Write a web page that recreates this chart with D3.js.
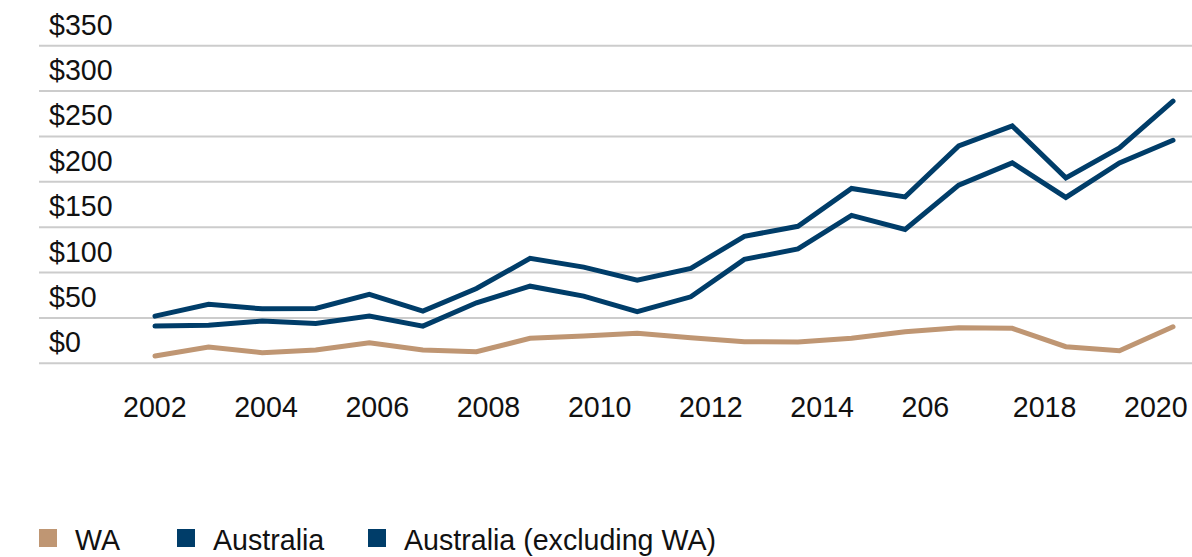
<!DOCTYPE html>
<html>
<head>
<meta charset="utf-8">
<script src="https://cdn.jsdelivr.net/npm/d3@7/dist/d3.min.js"></script>
<style>
  html, body { margin: 0; padding: 0; background: #ffffff; }
  svg { display: block; }
  text { font-family: "Liberation Sans", Arial, Helvetica, sans-serif; fill: #111111; }
</style>
</head>
<body>
<svg id="chart" width="1192" height="557"></svg>
<script>
// ---- Data ----
const years = ["2002","2003","2004","2005","2006","2007","2008","2009","2010","2011",
               "2012","2013","2014","2015","2016","2017","2018","2019","2020","2021"];
const australia = [52, 65, 60, 60.5, 76, 57.6, 82.5, 115.6, 106, 91.7,
                   104.6, 140, 151, 192.7, 183.4, 239.6, 261.6, 204.3, 237.4, 288.8];
const australiaExWA = [41, 42, 46.5, 44, 52, 41, 66.7, 85, 74, 56.8,
                       73.3, 114.5, 126, 163, 147.5, 196.3, 220.9, 182.8, 220.9, 245.8];
const wa = [8, 18, 11.7, 14.6, 22.7, 14.6, 12.8, 27.5, 30, 33,
            28.2, 23.8, 23.5, 27.5, 34.8, 39.2, 38.5, 18.3, 13.9, 40.3];
const xTickLabels = ["2002","2004","2006","2008","2010","2012","2014","206","2018","2020"];
const yTicks = [0, 50, 100, 150, 200, 250, 300, 350];
const seriesNames = ["WA", "Australia", "Australia (excluding WA)"];
const seriesColors = ["#BF9673", "#003D69", "#003D69"];

// ---- Layout ----
const svg = d3.select("#chart");
const W = 1192;
const FS = 28.6;
const y = d3.scaleLinear().domain([0, 350]).range([363.3, 45.7]);
const x = d3.scalePoint().domain(years).range([155, 1173]);
const xLab = d3.scalePoint().domain(xTickLabels).range([123, 1124]);

// Gridlines
svg.append("g").selectAll("line").data(yTicks).join("line")
  .attr("x1", 39).attr("x2", W)
  .attr("y1", d => y(d)).attr("y2", d => y(d))
  .attr("stroke", "#cccccc").attr("stroke-width", 2);

// Y labels (sit above their gridline)
svg.append("g").selectAll("text").data(yTicks).join("text")
  .attr("x", 49).attr("y", d => y(d) - 11)
  .attr("font-size", FS)
  .text(d => "$" + d);

// X labels
svg.append("g").selectAll("text").data(xTickLabels).join("text")
  .attr("x", d => xLab(d)).attr("y", 417)
  .attr("font-size", FS)
  .attr("text-anchor", "start")
  .text(d => d);

// Lines
const series = [wa, australia, australiaExWA];
const line = d3.line().x((d, i) => x(years[i])).y(d => y(d));
svg.append("g").selectAll("path").data(series).join("path")
  .attr("d", d => line(d))
  .attr("fill", "none")
  .attr("stroke", (d, i) => seriesColors[i])
  .attr("stroke-width", 5)
  .attr("stroke-linejoin", "miter")
  .attr("stroke-linecap", "round");

// Legend
const legendX = [39, 177, 368];
const lg = svg.append("g").selectAll("g").data(seriesNames).join("g")
  .attr("transform", (d, i) => `translate(${legendX[i]},529)`);
lg.append("rect").attr("width", 18).attr("height", 18)
  .attr("fill", (d, i) => seriesColors[i]);
lg.append("text").attr("x", 36).attr("y", 21)
  .attr("font-size", FS).text(d => d);
</script>
</body>
</html>
